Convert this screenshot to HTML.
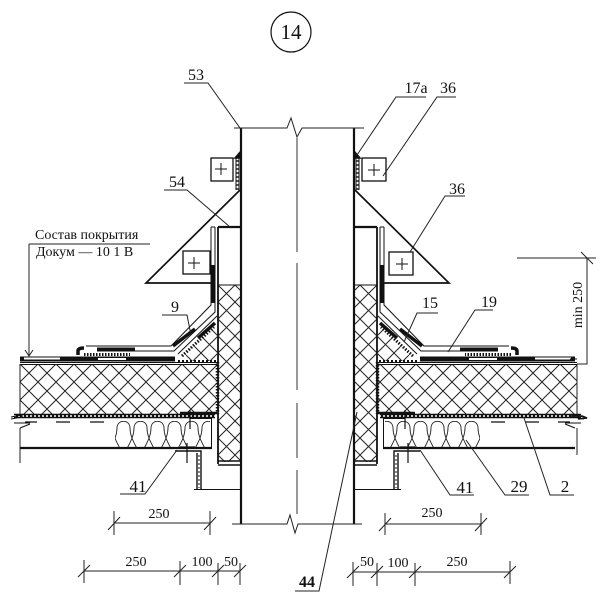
<!DOCTYPE html>
<html><head><meta charset="utf-8"><style>
html,body{margin:0;padding:0;background:#fff;width:604px;height:608px;overflow:hidden}
svg{display:block}
text{font-family:"Liberation Serif",serif;font-size:16px;fill:#111;text-anchor:middle}
</style></head><body>
<svg width="604" height="608" viewBox="0 0 604 608" xmlns="http://www.w3.org/2000/svg">
<defs>
<pattern id="h" patternUnits="userSpaceOnUse" width="18" height="18" x="20" y="364">
<path d="M0 0L18 18M18 0L0 18" stroke="#222" stroke-width="1" fill="none"/></pattern>
<pattern id="h2" patternUnits="userSpaceOnUse" width="17" height="17" x="218" y="285">
<path d="M0 0L17 17M17 0L0 17" stroke="#222" stroke-width="1" fill="none"/></pattern>
<pattern id="w" patternUnits="userSpaceOnUse" width="17" height="29" x="115" y="421">
<g stroke="#222" stroke-width=".9" fill="none">
<path id="wl" d="M2 7C2 -2 15 -2 15 7C15 14 18 20 21.250 26M2 7C2 14 -1 20 -4.250 26M12.750 26Q17 29 21.250 26"/>
<path d="M-15 7C-15 -2 -2 -2 -2 7C-2 14 1 20 4.250 26M-4.250 26Q0 29 4.250 26"/>
<path d="M19 7C19 14 16 20 12.750 26"/>
</g></pattern>
<g id="side" fill="none" stroke="#111">
<!-- triangle flashing -->
<path d="M240 190L146 283H212" stroke-width="1.700"/>
<!-- top seal -->
<path d="M235 158L241 151V158Z" fill="#111" stroke-width="1.500"/>
<path d="M236 158V190M239 158V190" stroke-width="1"/>
<path d="M237.500 160V190" stroke-width="2" stroke-dasharray="2 2" stroke="#555"/>
<!-- inner hatch box -->
<rect x="218" y="285" width="23" height="177" fill="url(#h2)" stroke="none"/>
<path d="M218 227H241" stroke-width="2.200"/>
<path d="M218 227V464" stroke-width="1.800"/>
<path d="M218 285H241" stroke-width=".9"/>
<path d="M218 461H241M218 465H241" stroke-width="1.500"/>
<!-- wedge -->
<path d="M180 361L217 325V361Z" fill="url(#h2)" stroke="none"/>
<!-- vertical flashing and slanted layers -->
<path d="M211 227V305L171 346H86" stroke-width="1"/>
<path d="M215 227V312L174 351H135" stroke-width="1"/>
<path d="M211 227H215" stroke-width="1"/>
<path d="M213 265V303" stroke-width="3.500"/>
<path d="M173 346L195 329" stroke-width="3.500"/>
<path d="M198 338L215 323" stroke-width="3.500"/>
<path d="M178 354L217 316" stroke-width="1"/>
<path d="M182 356L214 327" stroke-width="3" stroke-dasharray="1.500 1.500"/>
<!-- roof layers -->
<path d="M97 349.500H135" stroke-width="4"/>
<path d="M78 355V351Q78 348 84 348" stroke-width="3.500"/>
<path d="M84 354.500H130" stroke-width="3" stroke-dasharray="1.500 1.500"/>
<path d="M20 359H175" stroke-width="5"/>
<path d="M24 358.500H60M98 359H126" stroke="#fff" stroke-width="2"/>
<path d="M20 362.500H217M20 364.500H217" stroke-width="1"/>
<path d="M178 361.500H217" stroke-width="3" stroke-dasharray="2 2"/>
<!-- vertical perforated side -->
<path d="M217.500 362V414" stroke-width="3.500" stroke-dasharray="1.500 1.500"/>
<!-- bottom perforated -->
<path d="M14 416H215" stroke-width="4.400"/>
<path d="M14 416H215" stroke="#fff" stroke-width="1.600" stroke-dasharray="2 2"/>
<path d="M180 413H217" stroke-width="2.500"/>
<path d="M11 419L22 417V415L11 417" stroke-width="1"/>
<path d="M25 422H37M56 422H70M90 422H104" stroke-width="1.300"/>
<path d="M14 423H30M20 428L30 424" stroke-width="1"/>
<!-- deck -->
<path d="M20 448H212" stroke-width="2.200"/>
<path d="M211.500 418V449" stroke-width="1"/>
<path d="M190 418.500H212" stroke-width="1"/>
<rect x="115" y="421" width="95" height="26" fill="url(#w)" stroke="none"/>
<!-- bracket -->
<path d="M175 451H201V490M197 453V490" stroke-width="1.400"/>
<path d="M199 455V488" stroke-width="1" stroke-dasharray="2 2"/>
<path d="M194 489.500H240" stroke-width="1.100"/>
<!-- screws -->
<path d="M187 443V463M180 447H195M190 410V429" stroke-width="1.200"/>
</g>
</defs>

<!-- title -->
<circle cx="291" cy="32" r="20" fill="none" stroke="#111" stroke-width="1.200"/>
<text x="291" y="39" style="font-size:21px">14</text>

<!-- blocks -->
<rect x="20" y="364" width="197" height="50" fill="url(#h)"/>
<rect x="378" y="364" width="199" height="50" fill="url(#h)"/>
<path d="M20 364V414M20 428V463M577 364V414M577 428V455M378 364V414" fill="none" stroke="#222" stroke-width="1"/>

<use href="#side"/>
<use href="#side" transform="translate(595 0) scale(-1 1)"/>

<!-- extend right block -->
<path d="M570 359H577M570 362.500H577M570 364.500H577" stroke="#111" stroke-width="1"/>
<path d="M570 416H582L587 418L578 419" fill="none" stroke="#111" stroke-width="1.500"/>

<!-- pipe -->
<path d="M241 128V524M354 128V524" stroke="#111" stroke-width="2.200" fill="none"/>
<path d="M234 128H287L291 118L297 137L302 128H364" stroke="#222" stroke-width="1" fill="none"/>
<path d="M232 524H287L290 515L295 533L298 524H362" stroke="#222" stroke-width="1" fill="none"/>
<path d="M297 138V252M297 263V390M297 403V458M297 470V514" stroke="#333" stroke-width="1" fill="none"/>

<!-- bolts -->
<g fill="#fff" stroke="#111" stroke-width="1.300">
<rect x="211" y="158" width="22" height="23"/>
<rect x="183" y="251" width="27" height="23"/>
<rect x="362" y="158" width="24" height="23"/>
<rect x="389" y="252" width="24" height="23"/>
</g>
<path d="M215 169H227M221 163V175M188 263H200M194 257V269M368 170H380M374 164V176M396 264H408M402 258V270" stroke="#111" stroke-width="1" fill="none"/>

<!-- leaders -->
<g fill="none" stroke="#222" stroke-width="1">
<path d="M184 83H208L240 128"/>
<path d="M164 190H187L230 227"/>
<path d="M29 244H150M29 244V355"/>
<path d="M25 350L29 356L33 350"/>
<path d="M162 315H187L191 335"/>
<path d="M426 97H396L357 155"/>
<path d="M456 97H437L383 176"/>
<path d="M465 196H445L410 252"/>
<path d="M438 313H417L404 342"/>
<path d="M493 310H475L448 352"/>
<path d="M120 494H145L177 450"/>
<path d="M474 495H450L420 450"/>
<path d="M529 495H505L466 440"/>
<path d="M574 495H550L524 418"/>
<path d="M357 412L319 591H295"/>
<path d="M517 258H596M587 258V364H577"/>
<path d="M581 252L593 264"/>
</g>

<!-- dimensions -->
<g fill="none" stroke="#222" stroke-width="1">
<path d="M114 523H210M114 511V535M210 511V535M108 530L120 517M204 530L216 517"/>
<path d="M385 524H481M385 513V535M481 513V535M379 531L391 518M475 531L487 518"/>
<path d="M84 571H240M84 560V583M180 561V585M218 563V585M240 563V585M78 577L90 565M174 577L186 565M212 577L224 565M234 577L246 565"/>
<path d="M353 572H510M353 562V586M377 563V586M415 563V586M510 561V584M347 578L359 566M371 578L383 566M409 578L421 566M504 578L516 566"/>
</g>

<!-- labels -->
<text x="196" y="80">53</text>
<text x="177" y="187">54</text>
<text x="175" y="312">9</text>
<text x="416" y="93">17а</text>
<text x="448" y="93">36</text>
<text x="457" y="194">36</text>
<text x="430" y="308">15</text>
<text x="489" y="307">19</text>
<text x="138" y="492" style="font-size:17px">41</text>
<text x="465" y="493" style="font-size:17px">41</text>
<text x="519" y="492" style="font-size:17px">29</text>
<text x="565" y="492" style="font-size:17px">2</text>
<text x="307" y="587" style="font-size:16px;font-weight:bold">44</text>
<text x="159" y="518" style="font-size:14px">250</text>
<text x="432" y="517" style="font-size:14px">250</text>
<text x="136" y="566" style="font-size:14px">250</text>
<text x="202" y="566" style="font-size:14px">100</text>
<text x="231" y="566" style="font-size:14px">50</text>
<text x="367" y="566" style="font-size:14px">50</text>
<text x="398" y="567" style="font-size:14px">100</text>
<text x="457" y="566" style="font-size:14px">250</text>
<text transform="translate(582 305) rotate(-90)" style="font-size:14px">min 250</text>
<text x="35" y="239" style="font-size:14px;text-anchor:start">Состав покрытия</text>
<text x="36" y="256" style="font-size:14px;text-anchor:start">Докум — 10 1 В</text>
</svg>
</body></html>
